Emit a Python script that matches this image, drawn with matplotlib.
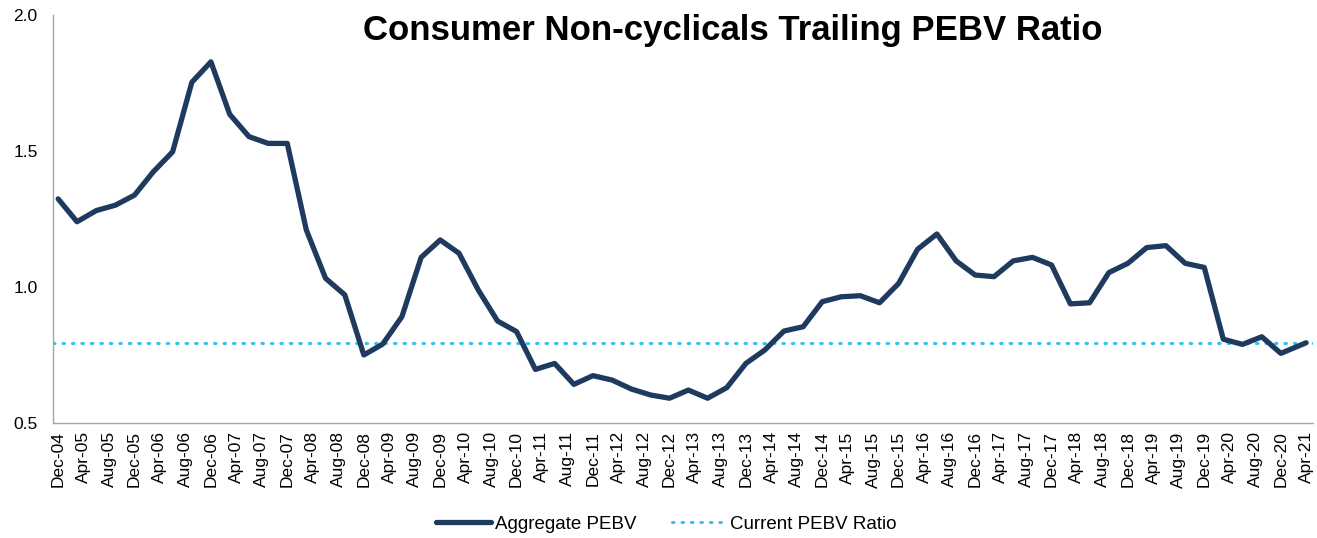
import matplotlib.pyplot as plt
import matplotlib.dates as mdates
import pandas as pd

plt.rcParams['font.family'] = ['Liberation Sans', 'DejaVu Sans']

# quarterly observations Dec-04 .. Dec-20, plus the latest reading in Apr-21
dates = list(pd.date_range("2004-12-01", "2020-12-01", freq="3MS")) + [pd.Timestamp("2021-04-01")]
pebv = [1.324, 1.240, 1.281, 1.301, 1.338, 1.424, 1.497, 1.753, 1.828, 1.635,
        1.553, 1.528, 1.528, 1.210, 1.032, 0.971, 0.750, 0.790, 0.891, 1.109,
        1.173, 1.124, 0.989, 0.875, 0.836, 0.697, 0.719, 0.642, 0.674, 0.658,
        0.625, 0.603, 0.591, 0.621, 0.591, 0.630, 0.719, 0.768, 0.838, 0.854,
        0.946, 0.964, 0.968, 0.942, 1.013, 1.139, 1.195, 1.096, 1.044, 1.038,
        1.096, 1.109, 1.081, 0.938, 0.942, 1.053, 1.087, 1.145, 1.152, 1.087,
        1.072, 0.808, 0.789, 0.817, 0.756, 0.795]
current = pebv[-1]
tick_dates = pd.date_range("2004-12-01", "2021-04-01", freq="4MS")

fig = plt.figure(figsize=(13.17, 5.38), dpi=100)
ax = fig.add_axes([0.0402, 0.2138, 0.9568, 0.7582])

ax.plot(dates, pebv, color='#1f3a5f', lw=3.8, solid_joinstyle='round',
        solid_capstyle='round', label='Aggregate PEBV', zorder=3)
ax.axhline(current, color='#38c0f0', lw=2.2, ls=(0, (0.5, 2.6)),
           dash_capstyle='round', label='Current PEBV Ratio', zorder=2)

ax.set_xlim(pd.Timestamp("2004-12-01") - pd.Timedelta(days=25),
            pd.Timestamp("2021-04-01") + pd.Timedelta(days=33))
ax.set_ylim(0.5, 2.0)
ax.set_yticks([0.5, 1.0, 1.5, 2.0])
ax.yaxis.set_major_formatter(plt.FormatStrFormatter('%.1f'))
ax.set_xticks(tick_dates)
ax.xaxis.set_major_formatter(mdates.DateFormatter('%b-%y'))
ax.tick_params(axis='x', labelrotation=90, length=0, labelsize=12.5, pad=6)
ax.tick_params(axis='y', length=0, labelsize=12.5, pad=11)

for s in ['top', 'right']:
    ax.spines[s].set_visible(False)
for s in ['left', 'bottom']:
    ax.spines[s].set_color('#a6a6a6')
    ax.spines[s].set_linewidth(1)

fig.text(0.556, 0.944, 'Consumer Non-cyclicals Trailing PEBV Ratio',
         ha='center', va='center', fontsize=25, fontweight='bold')

fig.legend(loc='center', bbox_to_anchor=(0.506, 0.026), ncol=2,
           frameon=False, fontsize=13.5, handlelength=2.9, columnspacing=1.9,
           handletextpad=0.2, borderpad=0)

fig.savefig('out.png', dpi=100)
